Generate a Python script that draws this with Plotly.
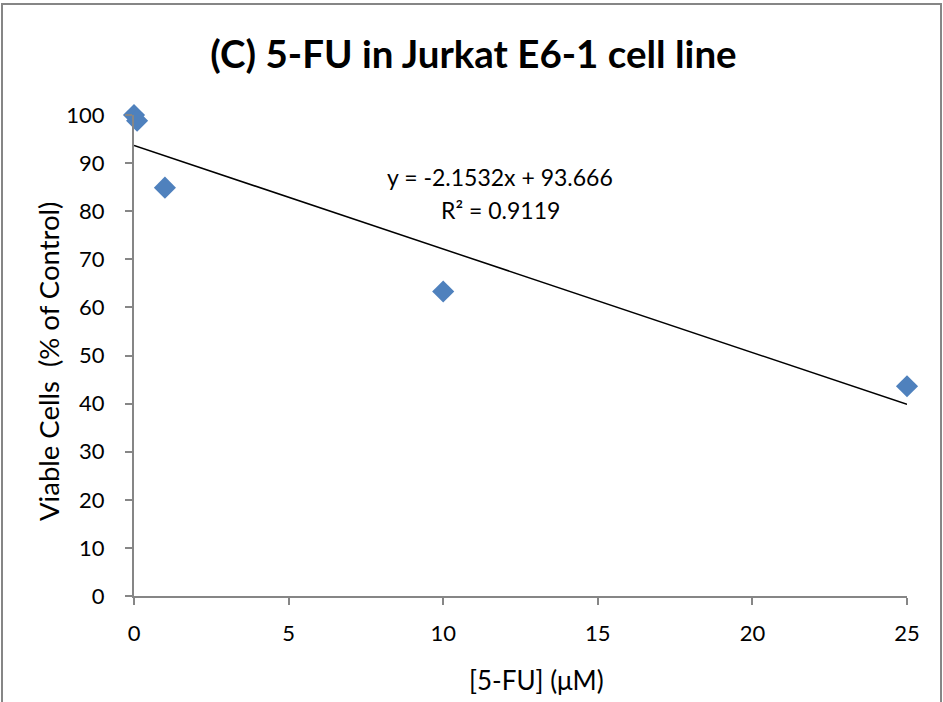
import plotly.graph_objects as go

conc_uM = [0, 0.1, 1, 10, 25]
viable_pct = [100, 98.8, 84.9, 63.3, 43.6]
slope = -2.1532
intercept = 93.666
r2 = 0.9119
trend_x = [0, 25]
trend_y = [slope * x + intercept for x in trend_x]

FONT = "Lato, Open Sans, sans-serif"
AXC = "#868686"
W, H = 943, 702
L, R, T, B = 134, 36, 115, 106
PW, PH = W - L - R, H - T - B


def px(x):
    return (x - L) / PW


def py(y):
    return (H - B - y) / PH


fig = go.Figure()
fig.add_trace(go.Scatter(x=trend_x, y=trend_y, mode="lines",
                         line=dict(color="black", width=1.5),
                         hoverinfo="skip", showlegend=False))
fig.add_trace(go.Scatter(x=conc_uM, y=viable_pct, mode="markers",
                         marker=dict(symbol="diamond", size=17, color="#4F81BD"),
                         cliponaxis=False, showlegend=False))

fig.update_layout(
    width=W, height=H,
    margin=dict(l=L, r=R, t=T, b=B),
    paper_bgcolor="white", plot_bgcolor="white",
    font=dict(family=FONT, color="black", size=22),
    title=dict(text="<b>(C) 5-FU in Jurkat E6-1 cell line</b>",
               x=473.5 / W, xanchor="center", y=1 - 55 / H, yanchor="middle",
               font=dict(family=FONT, size=38.5, color="black")),
    xaxis=dict(range=[0, 25], tickvals=[0, 5, 10, 15, 20, 25],
               showline=True, linecolor=AXC, linewidth=2,
               ticks="outside", ticklen=7, tickcolor=AXC, tickwidth=2,
               showgrid=False, zeroline=False, ticklabelstandoff=10,
               tickfont=dict(size=22)),
    yaxis=dict(range=[0, 100], tickvals=list(range(0, 101, 10)),
               showline=True, linecolor=AXC, linewidth=2,
               ticks="outside", ticklen=7, tickcolor=AXC, tickwidth=2,
               showgrid=False, zeroline=False, ticklabelstandoff=16,
               tickfont=dict(size=22)),
    annotations=[
        dict(xref="paper", yref="paper", x=px(500), y=py(177),
             xanchor="center", yanchor="middle",
             text=f"y = {slope}x + {intercept}", showarrow=False,
             font=dict(size=23, family=FONT, color="black")),
        dict(xref="paper", yref="paper", x=px(500), y=py(210),
             xanchor="center", yanchor="middle",
             text=f"R² = {r2}", showarrow=False,
             font=dict(size=23, family=FONT, color="black")),
        dict(xref="paper", yref="paper", x=px(536), y=py(680),
             xanchor="center", yanchor="middle",
             text="[5-FU] (μM)", showarrow=False,
             font=dict(size=26, family=FONT, color="black")),
        dict(xref="paper", yref="paper", x=px(48), y=py(362),
             xanchor="center", yanchor="middle", textangle=-90,
             text="Viable Cells  (% of Control)", showarrow=False,
             font=dict(size=27.5, family=FONT, color="black")),
    ],
    shapes=[dict(type="rect", xref="paper", yref="paper",
                 x0=px(2), x1=px(941), y0=py(4), y1=py(730),
                 line=dict(color=AXC, width=2), layer="below")],
)

fig.write_html("out.html", config={"displayModeBar": False},
               post_script="document.body.style.margin='0px';document.body.style.overflow='hidden';")
